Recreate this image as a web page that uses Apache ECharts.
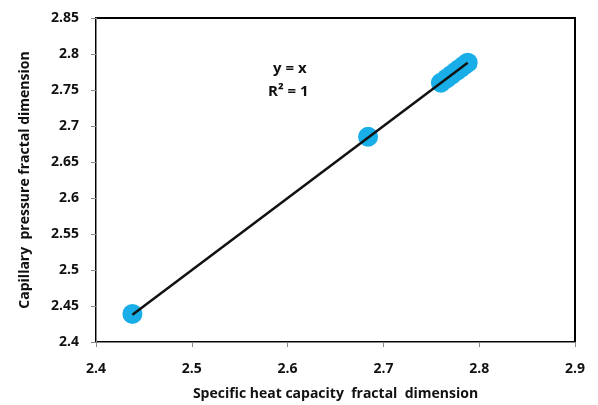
<!DOCTYPE html>
<html>
<head>
<meta charset="utf-8">
<script src="https://cdn.jsdelivr.net/npm/echarts@6/dist/echarts.min.js"></script>
<style>
  html, body { margin: 0; padding: 0; background: #fff; }
  #chart { width: 598px; height: 405px; }
</style>
</head>
<body>
<div id="chart"></div>
<script>
// 散点数据 (x = 比热容分形维数, y = 毛管压力分形维数)
const heatDim = [2.438, 2.684, 2.760, 2.766, 2.771, 2.776, 2.780, 2.784, 2.788];
const pressureDim = [2.439, 2.685, 2.760, 2.766, 2.771, 2.776, 2.780, 2.784, 2.788];
// 拟合线 y = x 的两端
const fitX = [2.438, 2.788];
const fitY = [2.438, 2.788];

const labelFont = "'Open Sans', 'Liberation Sans', sans-serif";

let myChart = echarts.init(document.getElementById("chart"));

const option = {
  animation: false,
  backgroundColor: "#fff",
  grid: {
    left: 96,
    right: 23,
    top: 18,
    bottom: 63,
    outerBoundsMode: "none", // 不让轴名称挤压绘图区
    show: true,
    borderColor: "#000",
    borderWidth: 2,
  },
  xAxis: {
    type: "value",
    min: 2.4,
    max: 2.9,
    interval: 0.1,
    name: "Specific heat capacity  fractal  dimension",
    nameLocation: "middle",
    nameGap: 45,
    nameTextStyle: { color: "#111", fontSize: 14, fontWeight: "bold", fontFamily: labelFont },
    axisLine: { show: true, lineStyle: { color: "#888", width: 1 } },
    axisTick: { show: true, length: 5, lineStyle: { color: "#888" } },
    axisLabel: { color: "#111", fontSize: 14, fontWeight: "bold", fontFamily: labelFont, margin: 20 },
    splitLine: { show: false },
  },
  yAxis: {
    type: "value",
    min: 2.4,
    max: 2.85,
    interval: 0.05,
    name: "Capillary  pressure fractal dimension",
    nameLocation: "middle",
    nameGap: 64,
    nameTextStyle: { color: "#111", fontSize: 14, fontWeight: "bold", fontFamily: labelFont },
    axisLine: { show: true, lineStyle: { color: "#888", width: 1 } },
    axisTick: { show: true, length: 5, lineStyle: { color: "#888" } },
    axisLabel: { color: "#111", fontSize: 14, fontWeight: "bold", fontFamily: labelFont, margin: 17 },
    splitLine: { show: false },
  },
  series: [
    {
      type: "scatter",
      data: heatDim.map((x, i) => [x, pressureDim[i]]),
      symbolSize: 20,
      itemStyle: { color: "#1AAEE8", opacity: 1 },
      z: 2,
    },
    {
      type: "line",
      data: fitX.map((x, i) => [x, fitY[i]]),
      showSymbol: false,
      symbol: "none",
      lineStyle: { color: "#111", width: 2.5 },
      z: 3,
    },
  ],
  graphic: [
    {
      type: "text",
      left: 273,
      top: 61,
      style: { text: "y = x", fill: "#111", font: "bold 15px " + labelFont },
    },
    {
      type: "text",
      left: 268,
      top: 84,
      style: { text: "R² = 1", fill: "#111", font: "bold 15px " + labelFont },
    },
  ],
};

myChart.setOption(option, true);
</script>
</body>
</html>
